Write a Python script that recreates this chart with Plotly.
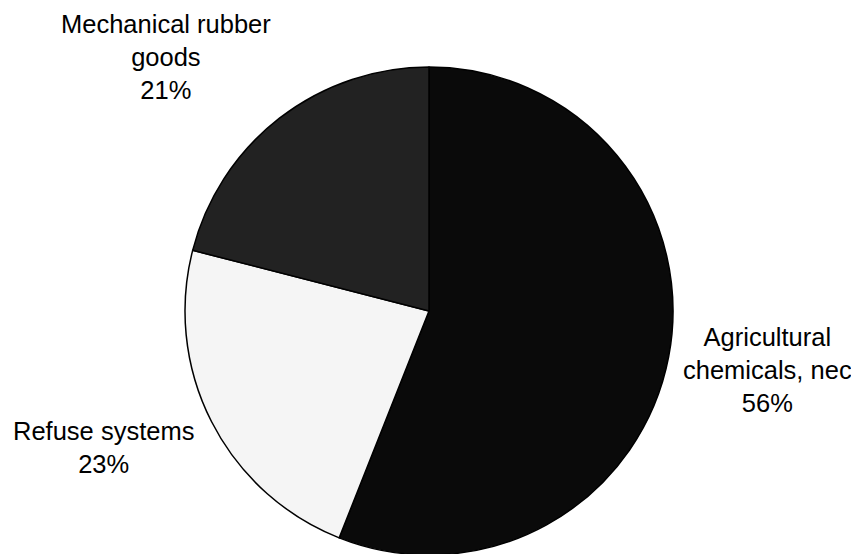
import plotly.graph_objects as go

categories = ["Agricultural<br>chemicals, nec", "Refuse systems", "Mechanical rubber<br>goods"]
values = [56, 23, 21]
colors = ["#0a0a0a", "#f5f5f5", "#222222"]

W, H = 859, 554
OFF = 8  # page body margin
label_pos = [(767 - OFF, 370 - OFF), (103 - OFF, 447 - OFF), (166 - OFF, 57 - OFF)]

cx, cy, r = 429 - OFF, 311 - OFF, 244

fig = go.Figure(go.Pie(
    labels=categories,
    values=values,
    sort=False,
    direction="clockwise",
    rotation=0,
    textinfo="none",
    hoverinfo="label+percent",
    marker=dict(colors=colors, line=dict(color="#000000", width=1.5)),
    domain=dict(x=[(cx - r) / W, (cx + r) / W], y=[1 - (cy + r) / H, 1 - (cy - r) / H]),
    showlegend=False,
))

total = sum(values)
for cat, val, (px, py) in zip(categories, values, label_pos):
    fig.add_annotation(
        x=px / W, y=1 - py / H, xref="paper", yref="paper",
        text=f"{cat}<br>{round(100 * val / total)}%",
        showarrow=False, xanchor="center", yanchor="middle",
        font=dict(family="Liberation Sans, Arial, sans-serif", size=25.5, color="#000000"),
    )

fig.update_layout(
    width=W, height=H,
    margin=dict(l=0, r=0, t=0, b=0),
    paper_bgcolor="#ffffff",
    plot_bgcolor="#ffffff",
)

fig.write_html("out.html")
